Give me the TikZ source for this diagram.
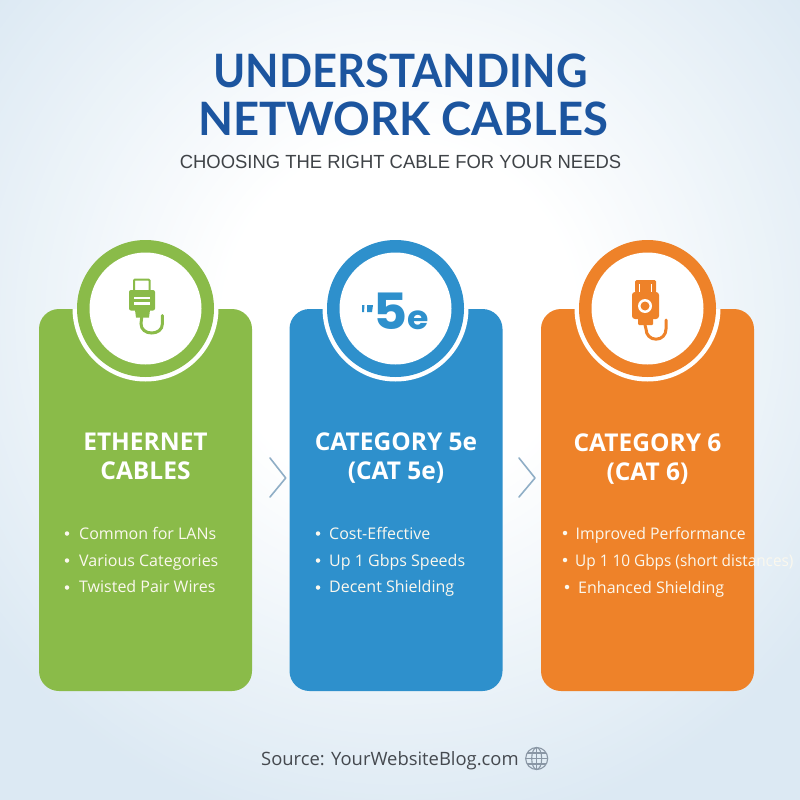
\documentclass[tikz,border=0pt]{standalone}
\usepackage{graphicx}
\usepackage{fontspec}
\setmainfont{Open Sans}
\newfontfamily\titlefont{Lato}
\newfontfamily\subfont{Liberation Sans}
\newfontfamily\logofont{Poppins}
\definecolor{bgedge}{HTML}{DCE9F3}
\definecolor{titleblue}{HTML}{1C559F}
\definecolor{subgray}{HTML}{3F4347}
\definecolor{srcgray}{HTML}{45494F}
\definecolor{globegray}{HTML}{8A97A5}
\definecolor{chevgray}{HTML}{8FAEC6}
\definecolor{cgreen}{HTML}{8ABB49}
\definecolor{cblue}{HTML}{2E90CC}
\definecolor{corange}{HTML}{EE8229}
\definecolor{itemwhite}{HTML}{FBF8EE}
\tikzset{
  card/.style={fill=#1,rounded corners=20pt,minimum width=213pt,minimum height=382pt,inner sep=0pt},
  ringout/.style={circle,draw=none,fill=#1,minimum size=137pt,inner sep=0pt},
  ringin/.style={circle,fill=white,minimum size=112pt,inner sep=0pt},
  heading/.style={font=\fontsize{24.5}{28}\selectfont\bfseries,text=white,align=center},
  item/.style={anchor=base west,font=\fontsize{16}{19}\selectfont,text=itemwhite,inner sep=0pt},
  dot/.style={circle,fill=itemwhite,minimum size=4.5pt,inner sep=0pt},
  chev/.style={draw=chevgray,line width=1.6pt,line cap=round,line join=round},
  cable/.style={draw=#1,line width=3pt,line cap=round},
  bigtitle/.style={font=\fontsize{46}{50}\selectfont\titlefont\bfseries,text=titleblue,inner sep=0pt,anchor=base},
}
\begin{document}
\begin{tikzpicture}[x=1pt,y=-1pt]
\useasboundingbox (0,0) rectangle (800,800);
% background glow
\begin{scope}
\clip (0,0) rectangle (800,800);
\fill[bgedge] (0,0) rectangle (800,800);
\foreach \rr in {520,515,...,180}{
  \pgfmathsetmacro\tt{(\rr-180)/3.4}
  \fill[bgedge!\tt!white] (400,320) circle (\rr);
}
\end{scope}
% titles
\node[bigtitle] (t1) at (400.5,87) {\scalebox{.947}[1]{UNDERSTANDING}};
\node[bigtitle] (t2) at (403,135) {\scalebox{.988}[1]{NETWORK CABLES}};
\node[font=\fontsize{19}{22}\selectfont\subfont,text=subgray,inner sep=0pt,anchor=base] (t3) at (400.5,168) {\scalebox{.97}[1]{CHOOSING THE RIGHT CABLE FOR YOUR NEEDS}};
% cards
\node[card=cgreen] (c1) at (145.5,500) {};
\node[card=cblue] (c2) at (396,500) {};
\node[card=corange] (c3) at (647.5,500) {};
% white halo arcs, clipped to the cards
\begin{scope}
\clip (39,309) rectangle (252,400);
\fill[white] (145.5,308.5) circle (73);
\end{scope}
\begin{scope}
\clip (289.5,309) rectangle (502.5,400);
\fill[white] (395.5,308.5) circle (73);
\end{scope}
\begin{scope}
\clip (541,309) rectangle (754,400);
\fill[white] (647.5,308.5) circle (73);
\end{scope}
% rings
\node[ringout=cgreen] (r1) at (145.5,308.5) {};
\node[ringin] (w1) at (145.5,308.5) {};
\node[ringout=cblue] (r2) at (395.5,308.5) {};
\node[ringin] (w2) at (395.5,308.5) {};
\node[ringout=corange] (r3) at (647.5,308.5) {};
\node[ringin] (w3) at (647.5,308.5) {};
% green icon
\draw[cgreen,line width=2pt,rounded corners=1pt] (134,290) -- (134,279.5) -- (149.5,279.5) -- (149.5,290);
\fill[cgreen,rounded corners=2pt] (129,290) rectangle (155,310.5);
\fill[cgreen] (135,310) -- (150,310) -- (149,317.5) -- (136,317.5) -- cycle;
\fill[white] (134,296.6) rectangle (149.5,299);
\fill[white] (134,302.4) rectangle (149.5,305);
\draw[cable=cgreen] (141.7,317) -- (141,323.7) .. controls (141,329.6) and (145.8,333) .. (151.7,333) .. controls (157.6,333) and (162.4,329.6) .. (162.4,323.7) -- (162.4,315.5);
% blue icon
\node[font=\fontsize{50}{52}\selectfont\logofont\bfseries,text=cblue,inner sep=0pt,anchor=base west] (logo) at (373,329) {\scalebox{1.05}[1]{5}\kern0.5pt{\fontsize{33}{35}\selectfont\scalebox{1.05}[1]{e}}};
\fill[cblue] (362,305) -- (364.5,305) -- (364,312) -- (362,312) -- cycle;
\fill[cblue] (367,305) -- (373,305) -- (372,312) -- (367,312) -- cycle;
% orange icon
\fill[corange,rounded corners=1.5pt] (635,280) rectangle (656,293);
\fill[white] (639,284) rectangle (640.2,292);
\fill[white] (651,284) rectangle (652.2,292);
\fill[corange,rounded corners=3pt] (632,292) rectangle (659,319);
\fill[corange,rounded corners=1pt] (638,318) rectangle (653,325);
\fill[white] (645,306) circle (7);
\fill[corange] (645,306) circle (4.5);
\draw[cable=corange] (645,325) -- (646,329) .. controls (646,335) and (650.5,339.2) .. (656,339.2) .. controls (661.5,339.2) and (666,335) .. (666,329) -- (666,320);
% headings
\node[heading] (h1) at (145.5,456.5) {ETHERNET\\[1pt]CABLES};
\node[heading] (h2) at (396,458) {CATEGORY 5e\\[1pt](CAT 5e)};
\node[heading] (h3) at (647.5,459.5) {CATEGORY 6\\[1pt](CAT 6)};
% chevrons
\coordinate (a1) at (270,458); \coordinate (a2) at (285.7,478); \coordinate (a3) at (270,497);
\coordinate (b1) at (519,458); \coordinate (b2) at (535,478); \coordinate (b3) at (519,497);
\draw[chev] (a1) -- (a2) -- (a3);
\draw[chev] (b1) -- (b2) -- (b3);
% lists
\node[dot] (d11) at (67,533.5) {}; \node[item] (i11) at (79,539) {Common for LANs};
\node[dot] (d12) at (67,560.5) {}; \node[item] (i12) at (79,566) {Various Categories};
\node[dot] (d13) at (67,587.5) {}; \node[item] (i13) at (79,592.5) {Twisted Pair Wires};
\node[dot] (d21) at (318,533.5) {}; \node[item] (i21) at (329,539) {Cost-Effective};
\node[dot] (d22) at (318,560.5) {}; \node[item] (i22) at (329,566) {Up 1 Gbps Speeds};
\node[dot] (d23) at (318,587.5) {}; \node[item] (i23) at (329,592.5) {Decent Shielding};
\node[dot] (d31) at (565,533) {}; \node[item] (i31) at (575.5,539) {\scalebox{.985}[1]{Improved Performance}};
\node[dot] (d32) at (565,560) {}; \node[item] (i32) at (575,566) {\scalebox{.96}[1]{Up 1 10 Gbps (short distances)}};
\node[dot] (d33) at (567,587) {}; \node[item] (i33) at (578,593) {Enhanced Shielding};
% source
\node[font=\fontsize{18.4}{20}\selectfont,text=srcgray,inner sep=0pt,anchor=base west] (src) at (261,765) {Source: YourWebsiteBlog.com};
\begin{scope}[globegray,line width=1.1pt]
\draw (536.7,758.5) circle (11);
\draw (536.7,758.5) ellipse (5 and 11);
\draw (536.7,747.5) -- (536.7,769.5);
\draw (525.7,758.5) -- (547.7,758.5);
\draw (527.2,753) -- (546.2,753);
\draw (527.2,764) -- (546.2,764);
\end{scope}
\end{tikzpicture}
\end{document}
